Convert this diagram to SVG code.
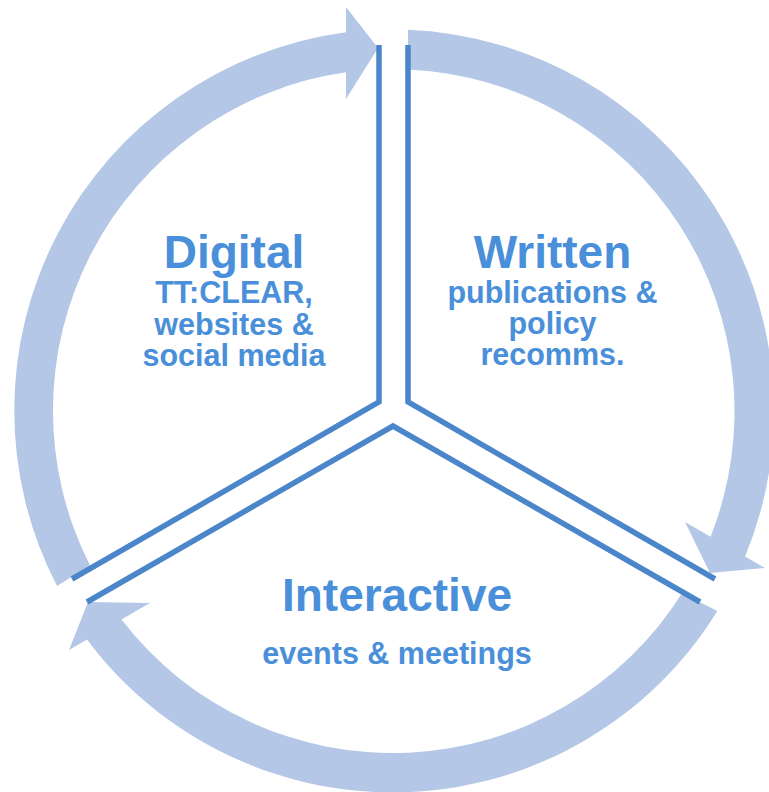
<svg xmlns="http://www.w3.org/2000/svg" width="769" height="792" viewBox="0 0 769 792">
  <style>
    .band { fill: #b4c7e7; stroke: none; }
    .edge { fill: none; stroke: #4a86c9; stroke-width: 5.5; stroke-linejoin: miter; stroke-linecap: butt; }
    .title { font-family: "Liberation Sans", Arial, sans-serif; font-weight: bold; font-size: 46px; fill: #4a8fd9; text-anchor: middle; }
    .sub { font-family: "Liberation Sans", Arial, sans-serif; font-weight: bold; font-size: 30.5px; fill: #4a8fd9; text-anchor: middle; }
  </style>
  <rect width="769" height="792" fill="#ffffff"/>

  <!-- circular arrows (ring centre 392.5,411; outer r 381.5, inner r 342) -->
  <g id="arrows">
    <path id="arrow-digital" class="band" d="M 57 586 A 381.5 381.5 0 0 1 346 32.3 L 346 7 L 378 48 L 346 99 L 346 72.2 A 342 342 0 0 0 90 565.5 Z"/>
    <path id="arrow-written" class="band" d="M 408 29.8 A 381.5 381.5 0 0 1 745.1 556.6 L 765 568 L 710 573 L 685 522 L 710.6 536.7 A 342 342 0 0 0 408 69.4 Z"/>
    <path id="arrow-interactive" class="band" d="M 717.3 611 A 381.5 381.5 0 0 1 87 639.5 L 69 650 L 88 602 L 150 603 L 121.5 619.6 A 342 342 0 0 0 682.1 593 Z"/>
  </g>

  <!-- sector outlines -->
  <g id="connectors">
    <polyline class="edge" points="379,45 379,402 72,579"/>
    <polyline class="edge" points="408,45 408,402 715,579"/>
    <polyline class="edge" points="87,602 393,426 700,602"/>
  </g>

  <g id="node-digital">
    <text class="title" x="234" y="268">Digital</text>
    <text class="sub" x="234" y="303">TT:CLEAR,</text>
    <text class="sub" x="234" y="335">websites &amp;</text>
    <text class="sub" x="234" y="366">social media</text>
  </g>

  <g id="node-written">
    <text class="title" x="552.5" y="268">Written</text>
    <text class="sub" x="552.5" y="303">publications &amp;</text>
    <text class="sub" x="552.5" y="334">policy</text>
    <text class="sub" x="552.5" y="365">recomms.</text>
  </g>

  <g id="node-interactive">
    <text class="title" x="397" y="611">Interactive</text>
    <text class="sub" x="397" y="664">events &amp; meetings</text>
  </g>
</svg>
